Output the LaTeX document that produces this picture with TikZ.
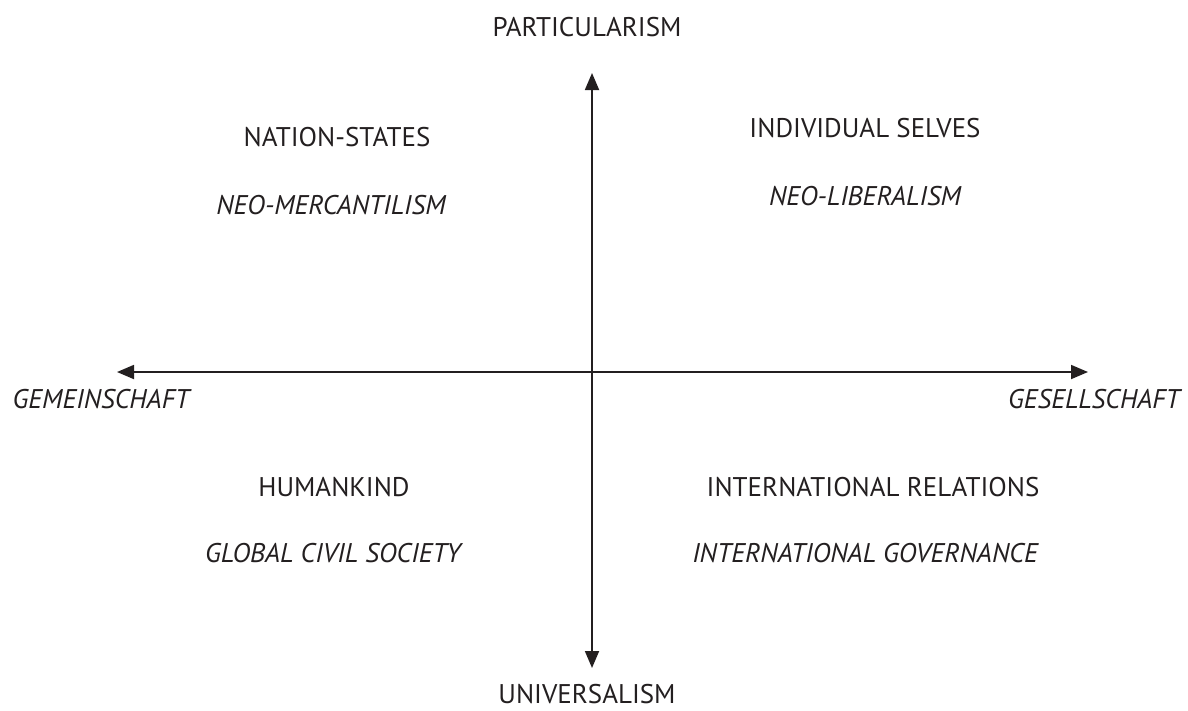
\documentclass[tikz,border=0pt]{standalone}
\usepackage{fontspec}
\setmainfont{PT Sans}
\usetikzlibrary{arrows.meta}
\definecolor{ink}{HTML}{231F20}
\tikzset{
  axisline/.style={line width=1.8pt, ink, {Triangle[length=17pt,width=14pt]}-{Triangle[length=17pt,width=14pt]}},
  lab/.style={text=ink, font=\fontsize{27}{31}\selectfont, inner sep=0pt, anchor=center},
  ilab/.style={lab, font=\fontsize{27}{31}\selectfont\itshape},
}
\begin{document}
\begin{tikzpicture}[x=1pt,y=-1pt]
\useasboundingbox (0,0) rectangle (1188,710);
\coordinate (top) at (592,73);
\coordinate (bottom) at (592,668);
\coordinate (left) at (117,372);
\coordinate (right) at (1088,372);
\draw[axisline] (top) -- (bottom);
\draw[axisline] (left) -- (right);
\node[lab] (part) at (587,27) {PARTICULARISM};
\node[lab] (univ) at (587,694) {UNIVERSALISM};
\node[ilab] (gem) at (101,399) {GEMEINSCHAFT};
\node[ilab] (ges) at (1094,399) {GESELLSCHAFT};
\node[lab] (ns) at (337,137) {NATION-STATES};
\node[ilab] (nm) at (331,205) {NEO-MERCANTILISM};
\node[lab] (is) at (865,128) {INDIVIDUAL SELVES};
\node[ilab] (nl) at (865,196) {NEO-LIBERALISM};
\node[lab] (hk) at (334,487) {HUMANKIND};
\node[ilab] (gcs) at (333,553) {GLOBAL CIVIL SOCIETY};
\node[lab] (ir) at (873,487) {INTERNATIONAL RELATIONS};
\node[ilab] (ig) at (865,553) {INTERNATIONAL GOVERNANCE};
\end{tikzpicture}
\end{document}
